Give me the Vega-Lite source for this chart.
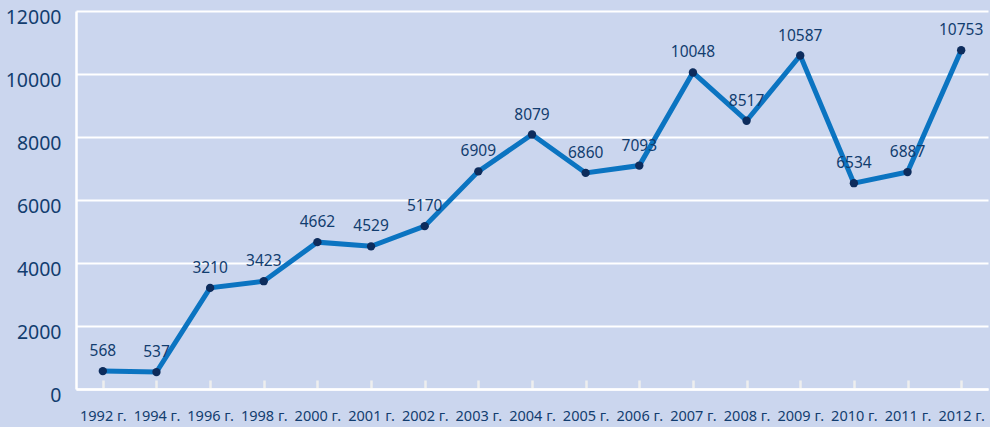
{
  "$schema": "https://vega.github.io/schema/vega-lite/v6.json",
  "autosize": {"type": "none"},
  "width": 912,
  "height": 378,
  "padding": {"left": 76, "top": 11, "right": 2, "bottom": 38},
  "background": "#cbd6ee",
  "config": {
    "view": {"stroke": null},
    "font": "Noto Sans"
  },
  "data": {
    "values": [
      {"year": "1992 г.", "value": 568},
      {"year": "1994 г.", "value": 537},
      {"year": "1996 г.", "value": 3210},
      {"year": "1998 г.", "value": 3423},
      {"year": "2000 г.", "value": 4662},
      {"year": "2001 г.", "value": 4529},
      {"year": "2002 г.", "value": 5170},
      {"year": "2003 г.", "value": 6909},
      {"year": "2004 г.", "value": 8079},
      {"year": "2005 г.", "value": 6860},
      {"year": "2006 г.", "value": 7093},
      {"year": "2007 г.", "value": 10048},
      {"year": "2008 г.", "value": 8517},
      {"year": "2009 г.", "value": 10587},
      {"year": "2010 г.", "value": 6534},
      {"year": "2011 г.", "value": 6887},
      {"year": "2012 г.", "value": 10753}
    ]
  },
  "encoding": {
    "x": {
      "field": "year",
      "type": "ordinal",
      "sort": null,
      "scale": {"type": "point", "padding": 0.5},
      "axis": {
        "title": null,
        "labelAngle": 0,
        "labelFontSize": 14.5,
        "labelColor": "#123d6f",
        "labelBaseline": "top",
        "labelPadding": 29,
        "domainColor": "#ffffff",
        "domainWidth": 2.5,
        "tickColor": "#eeeeee",
        "tickWidth": 2.5,
        "tickSize": -9,
        "grid": false
      }
    },
    "y": {
      "field": "value",
      "type": "quantitative",
      "scale": {"domain": [0, 12000]},
      "axis": {
        "title": null,
        "format": "d",
        "values": [0, 2000, 4000, 6000, 8000, 10000, 12000],
        "labelFontSize": 19.5,
        "labelColor": "#123d6f",
        "labelPadding": 15,
        "labelOffset": 6,
        "ticks": false,
        "domainColor": "#ffffff",
        "domainWidth": 2.5,
        "gridColor": "#ffffff",
        "gridWidth": 2,
        "gridOpacity": 1
      }
    }
  },
  "layer": [
    {
      "mark": {"type": "line", "color": "#0b74c1", "strokeWidth": 5}
    },
    {
      "mark": {"type": "point", "filled": true, "color": "#0d2c5c", "size": 70, "opacity": 1}
    },
    {
      "mark": {"type": "text", "dy": -20, "fontSize": 15.5, "color": "#123d6f"},
      "encoding": {"text": {"field": "value", "type": "quantitative", "format": "d"}}
    }
  ]
}
